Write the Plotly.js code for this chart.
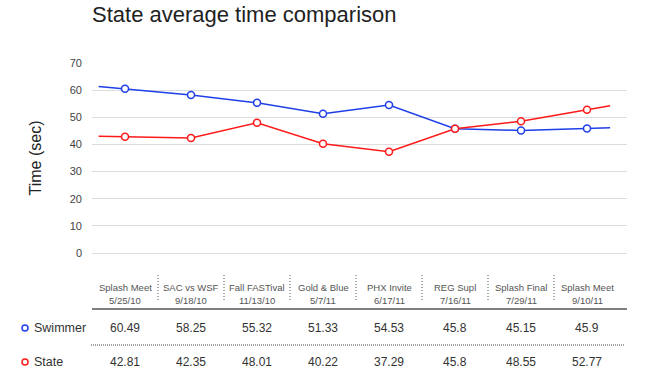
<!DOCTYPE html>
<html>
<head>
<meta charset="utf-8">
<script src="https://cdn.plot.ly/plotly-3.0.1.min.js"></script>
<style>html,body{margin:0;padding:0;background:#fff;}#chart{width:657px;height:386px;}</style>
</head>
<body>
<div id="chart"></div>
<script>
// ---- data ----
var events = ["Splash Meet", "SAC vs WSF", "Fall FASTival", "Gold & Blue", "PHX Invite", "REG Supl", "Splash Final", "Splash Meet"];
var dates = ["5/25/10", "9/18/10", "11/13/10", "5/7/11", "6/17/11", "7/16/11", "7/29/11", "9/10/11"];
var swimmer = [60.49, 58.25, 55.32, 51.33, 54.53, 45.8, 45.15, 45.9];
var state = [42.81, 42.35, 48.01, 40.22, 37.29, 45.8, 48.55, 52.77];
var seriesNames = ["Swimmer", "State"];
var yTicks = [0, 10, 20, 30, 40, 50, 60, 70];

// ---- styling ----
var blue = "#1f3fe8", red = "#ff1a1a";
var FONT = "Liberation Sans, Arial, sans-serif";
var W = 657, H = 386, mL = 92, mR = 30, mT = 63, mB = 133;
var plotH = H - mT - mB, plotW = W - mL - mR;
function py(y) { return (H - mB - y) / plotH; }   // pixel row -> paper y
function px(x) { return (x - mL) / plotW; }       // pixel col -> paper x

var idx = events.map(function (_, i) { return i; });
var n = events.length;
var preX = -0.4, postX = n - 1 + 0.35;
function extended(vals) {
  var first = vals[0] + preX * (vals[1] - vals[0]);
  var last = vals[n - 1] + (postX - (n - 1)) * (vals[n - 1] - vals[n - 2]);
  return { x: [preX].concat(idx, [postX]), y: [first].concat(vals, [last]) };
}

var traces = [];
[[swimmer, blue], [state, red]].forEach(function (s) {
  var e = extended(s[0]);
  traces.push({ x: e.x, y: e.y, mode: "lines", line: { color: s[1], width: 1.5 }, showlegend: false, hoverinfo: "skip" });
});
[[swimmer, blue], [state, red]].forEach(function (s) {
  traces.push({ x: idx, y: s[0], mode: "markers", marker: { symbol: "circle", size: 7, color: "#fff", line: { color: s[1], width: 1.5 } }, showlegend: false, hoverinfo: "skip" });
});

var annotations = [], shapes = [];
events.forEach(function (ev, i) {
  annotations.push({ x: i, xref: "x", y: py(287.5), yref: "paper", text: ev, showarrow: false,
    font: { family: FONT, size: 9.5, color: "#555" }, xanchor: "center", yanchor: "middle" });
  annotations.push({ x: i, xref: "x", y: py(300.5), yref: "paper", text: dates[i], showarrow: false,
    font: { family: FONT, size: 9.5, color: "#555" }, xanchor: "center", yanchor: "middle" });
  annotations.push({ x: i, xref: "x", y: py(328), yref: "paper", text: String(swimmer[i]), showarrow: false,
    font: { family: FONT, size: 12, color: "#333" }, xanchor: "center", yanchor: "middle" });
  annotations.push({ x: i, xref: "x", y: py(362), yref: "paper", text: String(state[i]), showarrow: false,
    font: { family: FONT, size: 12, color: "#333" }, xanchor: "center", yanchor: "middle" });
  if (i < n - 1) {
    shapes.push({ type: "line", xref: "x", x0: i + 0.5, x1: i + 0.5, yref: "paper", y0: py(275), y1: py(302),
      line: { color: "#555", width: 1, dash: "1px,2px" } });
  }
});
[[seriesNames[0], blue, 328], [seriesNames[1], red, 362]].forEach(function (r) {
  annotations.push({ x: px(32), xref: "paper", y: py(r[2]), yref: "paper", text: r[0], showarrow: false,
    font: { family: FONT, size: 12.5, color: "#333" }, xanchor: "left", yanchor: "middle" });
  shapes.push({ type: "circle", xref: "paper", xsizemode: "pixel", xanchor: px(25), x0: -3, x1: 3,
    yref: "paper", ysizemode: "pixel", yanchor: py(r[2]), y0: -3, y1: 3,
    line: { color: r[1], width: 1.5 }, fillcolor: "#fff" });
});
shapes.push({ type: "line", xref: "paper", x0: 0, x1: 1, yref: "paper", y0: py(309), y1: py(309), line: { color: "#555", width: 1.5 } });
shapes.push({ type: "line", xref: "paper", x0: px(91), x1: px(625), yref: "paper", y0: py(345), y1: py(345), line: { color: "#444", width: 1, dash: "1px,1px" } });

var layout = {
  width: W, height: H,
  margin: { l: mL, r: mR, t: mT, b: mB, pad: 0 },
  paper_bgcolor: "#fff", plot_bgcolor: "#fff",
  title: { text: "State average time comparison", x: 0, xref: "paper", xanchor: "left", y: 1 - 14 / H, yref: "container", yanchor: "middle",
    font: { family: FONT, size: 22, color: "#222" } },
  xaxis: { range: [-0.5, (W - mR - mL) / 66 - 0.5], showgrid: false, zeroline: false, showticklabels: false, showline: false, ticks: "", fixedrange: true },
  yaxis: { range: [0, 70], tickvals: yTicks, ticktext: yTicks.map(String), showgrid: true, gridcolor: "#dddddd", gridwidth: 1,
    zeroline: true, zerolinecolor: "#dddddd", zerolinewidth: 1, showline: false, ticks: "", ticklabelstandoff: 9,
    tickfont: { family: FONT, size: 11, color: "#444" },
    title: { text: "Time (sec)", font: { family: FONT, size: 16, color: "#222" }, standoff: 24 } },
  annotations: annotations, shapes: shapes,
  hovermode: false, showlegend: false
};
Plotly.newPlot("chart", traces, layout, { staticPlot: true, displayModeBar: false });
</script>
</body>
</html>
